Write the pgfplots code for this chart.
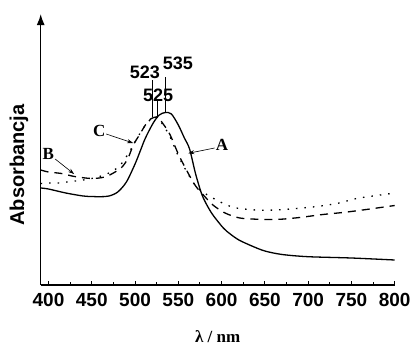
\documentclass[border=0pt]{standalone}
\usepackage{fontspec}
\setmainfont{Liberation Serif}
\setsansfont{Liberation Sans}
\usepackage{pgfplots}
\pgfplotsset{compat=1.18}
\usetikzlibrary{arrows.meta}

\begin{document}
\begin{tikzpicture}
\begin{axis}[
  name=ax, at={(0,0)}, anchor=south west,
  scale only axis, width=354pt, height=271pt,
  xmin=391, xmax=800, ymin=0, ymax=271,
  axis x line*=bottom, axis y line=left,
  axis line style={line width=1.4pt},
  y axis line style={-{Latex[length=11pt,width=8pt]}},
  ytick=\empty,
  xtick={400,450,...,800}, minor x tick num=1,
  tick align=inside,
  major tick length=4pt, minor tick length=3pt,
  every tick/.style={black, line width=1pt},
  /pgf/number format/assume math mode=true,
  xticklabel style={font=\fontsize{19}{20}\selectfont\sffamily\bfseries, yshift=-5pt},
  xlabel={\fontsize{17}{20}\selectfont\bfseries λ / nm},
  xlabel style={at={(axis description cs:0.5,0)}, anchor=center, yshift=-51.7pt},
  ylabel={\fontsize{20}{22}\selectfont\sffamily\bfseries Absorbancja},
  ylabel style={at={(axis description cs:-0.0613,0.443)}, anchor=center},
  clip=false,
]
% A solid
\addplot[black, line width=1.3pt, smooth] coordinates {
(391,97) (400,96) (420,92) (440,89) (450,88.5) (460,88.3) (470,89) (480,93) (490,103)
(500,121) (506,134) (512,147) (521,162) (528,170) (535,172.5) (542,171) (550,160)
(557,147) (563,136) (570,111) (577,91) (583,80) (590,70) (602,57) (610,51) (620,45)
(635,39) (650,34) (670,30.5) (700,28.3) (750,27) (800,25)};
% B dashed
\addplot[black, line width=1.3pt, smooth, dash pattern=on 8pt off 6pt] coordinates {
(391,115) (400,113) (415,111.5) (430,108.5) (450,106.5) (465,108) (475,112) (485,118)
(492,127) (498,140) (505,150) (512,160) (518,166) (525,168) (530,164) (540,151)
(550,131) (560,114) (570,99) (580,89) (590,80) (604,72) (621,67) (644,65.7) (667,65.7)
(690,67.5) (717,70.5) (740,72.5) (763,75) (800,79.5)};
% C dotted
\addplot[black, line width=1.3pt, smooth, dash pattern=on 1.5pt off 7pt] coordinates {
(391,101.5) (400,102) (411,102) (426,103.5) (440,105) (455,107.5) (470,112) (482,119)
(492,131) (500,143) (508,155) (515,163) (523,168.5) (530,163) (540,149) (550,129)
(560,113) (570,99) (580,92) (594,85) (606,80) (617,77) (640,75) (663,75) (686,76.5)
(710,78.5) (733,81.5) (756,86.5) (775,89) (800,92)};
% annotations
\node[font=\fontsize{17}{20}\selectfont\bfseries] at (axis cs:600.4,140) {A};
\draw[-{Stealth[length=6pt,width=4pt]}, line width=0.6pt] (axis cs:592,137) -- (axis cs:561.5,131.7);
\node[font=\fontsize{17}{20}\selectfont\bfseries] at (axis cs:399.7,131) {B};
\draw[-{Stealth[length=6pt,width=4pt]}, line width=0.6pt] (axis cs:407.7,126) -- (axis cs:429.6,111);
\node[font=\fontsize{17}{20}\selectfont\bfseries] at (axis cs:458.6,154) {C};
\draw[-{Stealth[length=6pt,width=4pt]}, line width=0.6pt] (axis cs:466.7,151) -- (axis cs:497.8,142);
\node[font=\fontsize{18}{20}\selectfont\sffamily\bfseries] at (axis cs:511.5,213) {523};
\node[font=\fontsize{18}{20}\selectfont\sffamily\bfseries] at (axis cs:549.6,222) {535};
\node[font=\fontsize{18}{20}\selectfont\sffamily\bfseries] at (axis cs:526.6,190) {525};
\draw[line width=0.6pt] (axis cs:520.4,205) -- (axis cs:520.4,168);
\draw[line width=0.6pt] (axis cs:525.7,185) -- (axis cs:525.7,167);
\draw[line width=0.6pt] (axis cs:535.4,208) -- (axis cs:535.4,172.5);
\end{axis}
\pgfresetboundingbox
\path[use as bounding box] ([shift={(-40.7pt,-69pt)}]ax.south west) rectangle ([shift={(25.3pt,14pt)}]ax.north east);
\end{tikzpicture}
\end{document}
